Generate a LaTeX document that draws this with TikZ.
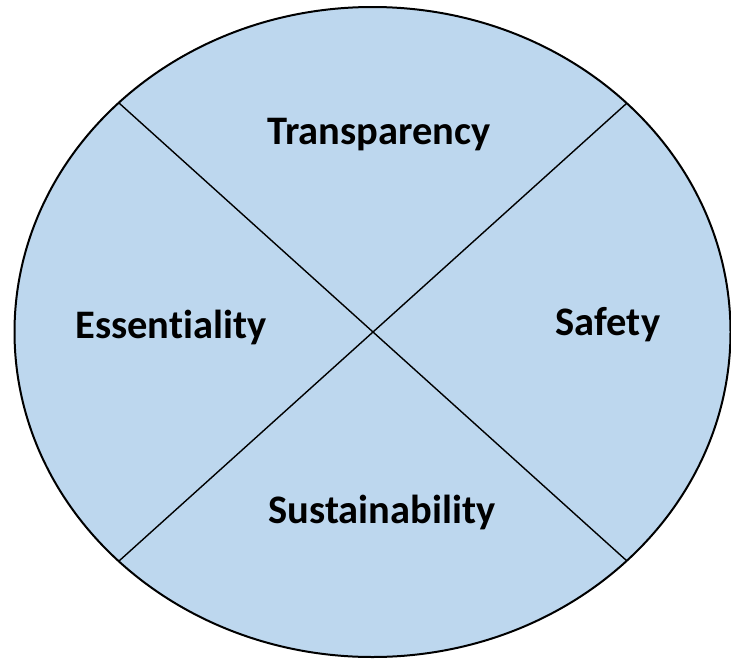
\documentclass[tikz,border=0pt]{standalone}
\usetikzlibrary{shapes.geometric}
\usepackage{fontspec}
\setmainfont[Ligatures={NoCommon}]{Carlito}
\definecolor{petal}{RGB}{189,215,238}
\begin{document}
\begin{tikzpicture}[x=1pt,y=-1pt,
  lbl/.style={font=\fontsize{40.5}{46}\selectfont\bfseries, inner sep=0pt}]
\useasboundingbox (0,0) rectangle (731,659);
\node[draw=black, line width=2pt, fill=petal, ellipse, minimum width=716pt, minimum height=650pt, inner sep=0pt] (e) at (372.5,332) {};
\coordinate (tl) at (119,103);
\coordinate (tr) at (627,103);
\coordinate (bl) at (119,561);
\coordinate (br) at (627,561);
\draw[line width=1.4pt] (tl) -- (br);
\draw[line width=1.4pt] (tr) -- (bl);
\node[lbl] (t) at (379,135) {Transparency};
\node[lbl] (es) at (171,327) {Essentiality};
\node[lbl] (sa) at (608,325) {Safety};
\node[lbl] (su) at (382,512) {Sustainability};
\end{tikzpicture}
\end{document}
